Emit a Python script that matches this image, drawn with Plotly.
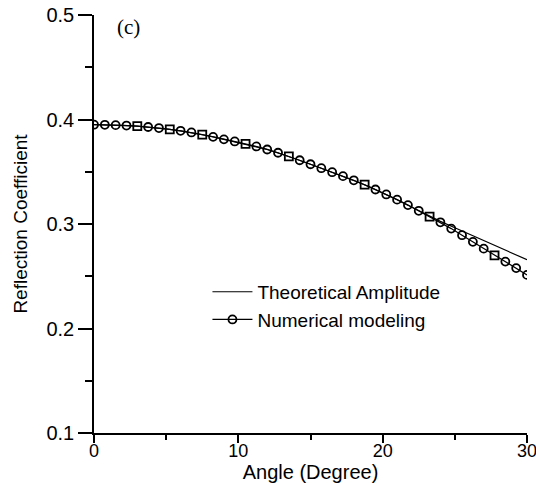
import plotly.graph_objects as go

# Data
angle_num = [0.0, 0.75, 1.5, 2.25, 3.0, 3.75, 4.5, 5.25, 6.0, 6.75, 7.5, 8.25, 9.0, 9.75,
             10.5, 11.25, 12.0, 12.75, 13.5, 14.25, 15.0, 15.75, 16.5, 17.25, 18.0, 18.75,
             19.5, 20.25, 21.0, 21.75, 22.5, 23.25, 24.0, 24.75, 25.5, 26.25, 27.0, 27.75,
             28.5, 29.25, 30.0]
refl_num = [0.3950, 0.3949, 0.3946, 0.3942, 0.3936, 0.3928, 0.3918, 0.3906, 0.3892, 0.3876,
            0.3856, 0.3834, 0.3810, 0.3790, 0.3767, 0.3742, 0.3713, 0.3682, 0.3647, 0.3610,
            0.3572, 0.3534, 0.3496, 0.3458, 0.3418, 0.3376, 0.3330, 0.3283, 0.3233, 0.3181,
            0.3126, 0.3071, 0.3016, 0.2956, 0.2893, 0.2829, 0.2764, 0.2700, 0.2640, 0.2578,
            0.2513]
angle_theory = list(range(0, 31))
refl_theory = [0.3950, 0.3948, 0.3943, 0.3936, 0.3925, 0.3910, 0.3892, 0.3870, 0.3842, 0.3812,
               0.3782, 0.3750, 0.3714, 0.3670, 0.3622, 0.3572, 0.3521, 0.3470, 0.3418, 0.3360,
               0.3298, 0.3232, 0.3163, 0.3092, 0.3025, 0.2964, 0.2903, 0.2842, 0.2781, 0.2719,
               0.2658]
x_ticks = [0, 10, 20, 30]
y_ticks = [0.1, 0.2, 0.3, 0.4, 0.5]

square_idx = {4, 7, 10, 14, 18, 25, 31, 37}
symbols = ["square-open" if i in square_idx else "circle-open" for i in range(len(angle_num))]

FONT = "Liberation Sans, Arial, sans-serif"

fig = go.Figure()
fig.add_trace(go.Scatter(
    x=angle_theory, y=refl_theory, mode="lines", name="Theoretical Amplitude",
    line=dict(color="black", width=1.2)))
fig.add_trace(go.Scatter(
    x=angle_num, y=refl_num, mode="lines+markers", name="Numerical modeling",
    line=dict(color="black", width=1.2),
    marker=dict(symbol=symbols, size=8, color="black", line=dict(color="black", width=1.8))))

fig.add_annotation(x=2.4, y=0.4885, text="(c)", showarrow=False,
                   font=dict(family="Liberation Serif, Times New Roman, serif", size=21, color="black"))

fig.update_layout(
    width=536, height=483,
    margin=dict(l=94, r=9, t=15, b=50, autoexpand=False),
    paper_bgcolor="white", plot_bgcolor="white",
    font=dict(family=FONT, size=20, color="black"),
    showlegend=True,
    legend=dict(x=0.262, y=0.383, xanchor="left", yanchor="top",
                bgcolor="rgba(0,0,0,0)", font=dict(size=19, family=FONT),
                itemwidth=40, tracegroupgap=0),
    xaxis=dict(range=[0, 30], tickvals=x_ticks, ticks="outside", ticklen=8, tickwidth=1.5,
               tickcolor="black", ticklabeloverflow="allow", automargin=False,
               ticklabelstandoff=-7,
               showline=True, linecolor="black", linewidth=1.5, showgrid=False, zeroline=False,
               minor=dict(tickvals=[5, 15, 25], ticks="outside", ticklen=5, tickwidth=1.5, tickcolor="black"),
               title=dict(text="Angle (Degree)", font=dict(size=20), standoff=0),
               tickfont=dict(size=18)),
    yaxis=dict(range=[0.1, 0.5], tickvals=y_ticks, tickformat=".1f", ticks="outside", ticklen=14,
               tickwidth=1.5, tickcolor="black", showline=True, linecolor="black", linewidth=1.5,
               showgrid=False, zeroline=False, automargin=False,
               minor=dict(tickvals=[0.15, 0.25, 0.35, 0.45], ticks="outside", ticklen=7, tickwidth=1.5,
                          tickcolor="black"),
               title=dict(text="Reflection Coefficient", font=dict(size=19), standoff=14),
               tickfont=dict(size=20)),
)

fig.write_html("out.html")
